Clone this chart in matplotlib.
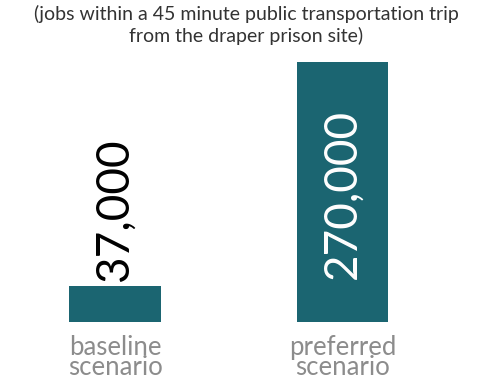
import matplotlib.pyplot as plt

categories = ["baseline\nscenario", "preferred\nscenario"]
jobs = [37000, 270000]
value_labels = ["37,000", "270,000"]
subtitle = "(jobs within a 45 minute public transportation trip\nfrom the draper prison site)"

teal = "#1b6571"

fig = plt.figure(figsize=(4.93, 3.83), dpi=100)
# axes placed so that the bar area matches the reference
ax = fig.add_axes([0, 61 / 383, 1, 260 / 383])
pos = list(range(len(jobs)))
ax.bar(pos, jobs, width=0.40, color=teal)
ax.set_xlim(-115 / 227.5, (493 - 115) / 227.5)
ax.set_ylim(0, max(jobs))
ax.axis("off")

# valeur au-dessus de la petite barre, dedans pour la grande
ax.text(pos[0], jobs[0] + 5000, value_labels[0], rotation=90, ha="center", va="bottom",
        fontsize=33, family="Lato", color="black")
ax.text(pos[1], jobs[1] * 0.165, value_labels[1], rotation=90, ha="center", va="bottom",
        fontsize=33, family="Lato", color="white")

for p, c in zip(pos, categories):
    ax.text(p, -13000, c, ha="center", va="top", fontsize=18.5, family="Lato",
            color="#8c8c8c", linespacing=0.75)

fig.text(0.5, 1 - 5 / 383, subtitle, ha="center", va="top", fontsize=14, family="Lato",
         color="#333333", linespacing=1.25)

fig.savefig("out.png", dpi=100)
